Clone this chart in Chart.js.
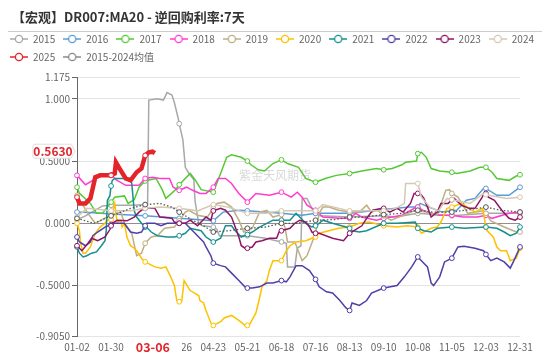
<!DOCTYPE html>
<html><head><meta charset="utf-8">
<script src="https://cdn.jsdelivr.net/npm/chart.js@4.4.1/dist/chart.umd.min.js"></script>
<style>html,body{margin:0;padding:0;background:#fff}</style>
</head><body>
<canvas id="c" width="550" height="356"></canvas>
<script>
// ---------- DATA ----------
const titleText = '【宏观】DR007:MA20 - 逆回购利率:7天';
const watermarkText = '紫金天风期货';
const tickLabels = ['01-02','01-30','02-27','03-26','04-23','05-21','06-18','07-16','08-13','09-10','10-08','11-05','12-03','12-31'];
const yTicks = [-0.905, -0.5, 0, 0.5, 1.0, 1.175];
const yTickText = ['-0.9050','-0.5000','0.000','0.5000','1.000','1.175'];
const currentDate = '03-06';
const seriesNames = ['2015','2016','2017','2018','2019','2020','2021','2022','2023','2024','2025','2015-2024均值'];
const seriesColors = ['#a8a8a8','#5b9bd5','#55c935','#ff3ccf','#bfae83','#ffc000','#16908f','#4f3fa8','#8e1466','#d6c8b2','#e3242b','#555555'];

// categories: every calendar day 01-02 .. 12-31 (leap-year calendar)
const categories = [];
for (let d = new Date(Date.UTC(2024,0,2)); d <= new Date(Date.UTC(2024,11,31)); d.setUTCDate(d.getUTCDate()+1)) {
  categories.push(String(d.getUTCMonth()+1).padStart(2,'0') + '-' + String(d.getUTCDate()).padStart(2,'0'));
}

const s2015 = [['01-02',0.03],['01-09',0.06],['01-16',0.10],['01-23',0.14],['01-30',0.145],['02-15',0.145],['02-27',0.15],['02-29',0.15],['03-01',0.99],['03-08',1.00],['03-13',0.99],['03-16',1.05],['03-20',1.03],['03-22',0.97],['03-25',0.85],['03-26',0.80],['03-29',0.67],['03-31',0.45],['04-03',0.40],['04-07',0.35],['04-08',0.18],['04-11',0.0],['04-14',-0.02],['04-23',-0.03],['04-26',-0.05],['04-28',-0.10],['05-21',-0.10],['06-05',-0.12],['06-18',-0.15],['06-22',-0.16],['06-23',-0.35],['06-29',-0.35],['07-01',-0.20],['07-04',-0.18],['07-05',0.20],['07-09',0.20],['07-14',0.10],['07-16',0.08],['07-20',0.06],['08-13',0.05],['09-10',0.06],['09-20',0.05],['10-08',0.08],['11-05',0.06],['11-20',0.07],['12-03',0.08],['12-31',0.08]];
const s2016 = [['01-02',0.09],['01-16',0.085],['01-30',0.075],['02-27',0.06],['03-26',0.04],['04-23',0.02],['05-01',0.09],['05-15',0.105],['05-21',0.10],['06-18',0.08],['07-05',0.065],['07-16',0.08],['08-13',0.08],['09-10',0.11],['10-01',0.13],['10-08',0.13],['10-10',0.16],['10-17',0.13],['10-28',0.09],['11-05',0.10],['11-09',0.105],['11-17',0.185],['11-24',0.20],['12-01',0.28],['12-03',0.28],['12-12',0.225],['12-22',0.225],['12-31',0.29]];
const s2017 = [['01-02',0.29],['01-04',0.24],['01-13',0.16],['01-18',0.08],['01-23',0.08],['01-30',0.17],['02-02',0.21],['02-10',0.22],['02-13',0.16],['02-18',0.19],['02-22',0.29],['02-27',0.34],['03-02',0.35],['03-07',0.36],['03-12',0.27],['03-15',0.20],['03-23',0.27],['03-26',0.31],['04-04',0.40],['04-08',0.35],['04-13',0.27],['04-23',0.25],['04-25',0.30],['04-29',0.40],['05-04',0.53],['05-08',0.55],['05-16',0.53],['05-21',0.50],['05-24',0.47],['05-30',0.43],['06-04',0.42],['06-11',0.48],['06-18',0.51],['06-23',0.48],['07-02',0.45],['07-08',0.36],['07-16',0.33],['07-24',0.36],['08-02',0.385],['08-13',0.40],['08-23',0.42],['09-04',0.44],['09-10',0.43],['09-17',0.44],['09-25',0.47],['09-28',0.49],['10-07',0.50],['10-08',0.56],['10-11',0.57],['10-15',0.53],['10-19',0.44],['10-26',0.42],['11-05',0.41],['11-09',0.40],['11-20',0.42],['11-28',0.45],['12-03',0.45],['12-08',0.41],['12-12',0.36],['12-22',0.345],['12-28',0.38],['12-31',0.39]];
const s2018 = [['01-02',0.385],['01-09',0.31],['01-15',0.345],['01-23',0.385],['01-30',0.39],['02-03',0.35],['02-11',0.305],['02-22',0.305],['02-27',0.36],['03-04',0.37],['03-10',0.36],['03-18',0.36],['03-21',0.29],['03-26',0.265],['04-01',0.29],['04-06',0.265],['04-12',0.24],['04-17',0.24],['04-23',0.29],['04-27',0.36],['05-03',0.36],['05-08',0.32],['05-14',0.24],['05-21',0.17],['05-28',0.24],['06-08',0.225],['06-18',0.25],['06-26',0.21],['07-01',0.25],['07-05',0.21],['07-09',0.145],['07-16',0.105],['07-22',0.05],['08-04',0.04],['08-13',0.04],['08-18',0.08],['08-23',0.05],['09-04',0.025],['09-10',0.04],['09-17',0.05],['09-25',0.065],['10-07',0.13],['10-08',0.13],['10-12',0.105],['10-24',0.065],['11-05',0.065],['11-14',0.05],['11-26',0.05],['12-03',0.065],['12-08',0.04],['12-22',0.08],['12-31',0.09]];
const s2019 = [['01-02',0.225],['01-06',0.16],['01-11',0.08],['01-17',0.0],['01-22',0.025],['01-30',0.07],['02-07',0.09],['02-10',0.0],['02-16',-0.08],['02-20',-0.26],['02-24',-0.24],['02-27',-0.16],['03-03',-0.11],['03-08',-0.10],['03-14',-0.04],['03-22',-0.03],['03-26',0.02],['03-31',0.09],['04-03',0.105],['04-10',0.065],['04-18',0.05],['04-23',0.12],['04-26',0.16],['05-02',0.17],['05-08',0.13],['05-14',0.025],['05-18',-0.07],['05-21',-0.06],['05-25',-0.04],['05-31',0.09],['06-06',0.105],['06-11',0.05],['06-18',0.07],['06-21',-0.04],['06-23',-0.15],['06-29',-0.15],['07-01',-0.20],['07-05',-0.30],['07-09',-0.26],['07-16',-0.08],['07-19',0.08],['07-22',0.13],['07-27',0.13],['08-04',0.105],['08-13',0.09],['08-21',0.09],['08-27',0.145],['08-31',0.09],['09-05',0.105],['09-10',0.06],['09-16',0.025],['09-25',0.06],['10-05',0.10],['10-08',0.10],['10-15',0.09],['10-24',0.065],['10-31',0.265],['11-03',0.27],['11-05',0.24],['11-10',0.21],['11-18',0.08],['12-01',0.10],['12-03',0.08],['12-07',0.02],['12-18',-0.03],['12-28',-0.07],['12-31',-0.07]];
const s2020 = [['01-02',0.0],['01-04',-0.06],['01-05',-0.16],['01-07',-0.24],['01-09',-0.24],['01-13',-0.19],['01-17',-0.08],['01-21',-0.03],['01-25',0.0],['01-27',0.025],['01-30',0.03],['02-02',0.16],['02-03',0.08],['02-04',0.01],['02-07',0.025],['02-08',-0.03],['02-10',0.0],['02-12',-0.11],['02-15',-0.18],['02-18',-0.20],['02-20',-0.22],['02-24',-0.28],['02-27',-0.31],['03-06',-0.35],['03-11',-0.36],['03-15',-0.35],['03-19',-0.43],['03-22',-0.50],['03-24',-0.62],['03-26',-0.63],['03-28',-0.63],['03-30',-0.46],['04-04',-0.54],['04-11',-0.58],['04-12',-0.62],['04-15',-0.64],['04-17',-0.70],['04-21',-0.80],['04-23',-0.82],['04-29',-0.79],['05-02',-0.76],['05-08',-0.74],['05-14',-0.78],['05-19',-0.82],['05-21',-0.82],['05-23',-0.81],['05-28',-0.72],['05-31',-0.60],['06-02',-0.51],['06-06',-0.46],['06-08',-0.38],['06-11',-0.30],['06-15',-0.30],['06-18',-0.30],['06-19',-0.28],['06-22',-0.22],['06-25',-0.18],['06-30',-0.15],['07-08',-0.14],['07-13',-0.12],['07-16',-0.11],['07-19',-0.08],['07-27',-0.06],['08-04',-0.04],['08-13',-0.03],['08-21',0.0],['08-29',0.01],['09-10',-0.02],['09-21',-0.03],['09-29',-0.02],['10-08',-0.03],['10-11',-0.08],['10-13',-0.07],['10-19',-0.04],['10-24',-0.03],['10-27',0.01],['11-01',0.12],['11-05',0.13],['11-13',0.16],['11-18',0.13],['11-24',0.09],['11-30',0.12],['12-01',0.08],['12-03',-0.03],['12-04',-0.06],['12-09',-0.11],['12-12',-0.19],['12-15',-0.22],['12-20',-0.22],['12-23',-0.30],['12-28',-0.28],['12-31',-0.20]];
const s2021 = [['01-02',-0.19],['01-04',-0.24],['01-07',-0.27],['01-10',-0.26],['01-14',-0.24],['01-18',-0.23],['01-22',-0.18],['01-25',-0.14],['01-26',-0.06],['01-27',0.185],['01-29',0.22],['01-30',0.30],['01-31',0.345],['02-02',0.36],['02-10',0.36],['02-15',0.36],['02-16',0.32],['02-18',0.10],['02-20',0.05],['02-24',0.0],['02-27',-0.03],['02-29',-0.04],['03-03',-0.07],['03-08',-0.10],['03-16',-0.11],['03-22',-0.11],['03-26',-0.10],['03-31',-0.08],['04-04',-0.04],['04-13',-0.06],['04-17',-0.11],['04-23',-0.15],['04-29',-0.12],['05-03',-0.02],['05-08',-0.02],['05-11',-0.06],['05-16',-0.11],['05-21',-0.09],['05-25',-0.07],['05-31',-0.03],['06-06',0.0],['06-11',0.025],['06-18',0.025],['06-25',0.025],['06-30',0.08],['07-03',0.05],['07-08',0.0],['07-13',-0.03],['07-16',-0.02],['07-19',0.0],['07-22',0.025],['07-30',0.0],['08-10',-0.03],['08-13',-0.04],['08-15',-0.06],['08-21',-0.07],['08-27',-0.06],['09-10',0.0],['09-21',0.0],['10-06',0.01],['10-08',-0.04],['10-13',-0.06],['10-19',-0.07],['10-24',-0.04],['11-05',-0.03],['11-15',-0.04],['12-03',-0.03],['12-12',-0.04],['12-18',-0.07],['12-23',-0.10],['12-28',-0.08],['12-31',-0.03]];
const s2022 = [['01-02',-0.11],['01-04',-0.15],['01-09',-0.18],['01-13',-0.15],['01-15',-0.10],['01-19',-0.07],['01-25',-0.03],['01-30',-0.01],['02-02',0.0],['02-10',0.0],['02-12',-0.03],['02-15',-0.07],['02-20',-0.08],['02-24',-0.07],['02-27',-0.02],['02-28',0.0],['03-06',0.0],['03-11',-0.02],['03-16',0.0],['03-26',0.0],['03-31',0.0],['04-04',-0.04],['04-10',-0.10],['04-15',-0.15],['04-17',-0.19],['04-21',-0.26],['04-23',-0.32],['04-29',-0.34],['05-03',-0.35],['05-08',-0.40],['05-14',-0.46],['05-19',-0.51],['05-21',-0.52],['05-25',-0.52],['05-31',-0.51],['06-06',-0.48],['06-11',-0.48],['06-18',-0.46],['06-22',-0.47],['06-25',-0.43],['06-30',-0.34],['07-05',-0.34],['07-11',-0.38],['07-16',-0.45],['07-19',-0.51],['07-25',-0.55],['07-30',-0.56],['08-05',-0.62],['08-10',-0.68],['08-13',-0.70],['08-15',-0.64],['08-21',-0.66],['08-27',-0.62],['08-31',-0.56],['09-10',-0.52],['09-21',-0.50],['09-27',-0.43],['10-03',-0.35],['10-08',-0.27],['10-13',-0.32],['10-16',-0.35],['10-19',-0.48],['10-21',-0.50],['10-26',-0.43],['10-30',-0.31],['11-05',-0.28],['11-10',-0.19],['11-15',-0.185],['11-24',-0.20],['12-01',-0.22],['12-03',-0.25],['12-07',-0.30],['12-12',-0.28],['12-18',-0.31],['12-23',-0.36],['12-26',-0.30],['12-31',-0.19]];
const s2023 = [['01-02',-0.18],['01-06',-0.22],['01-11',-0.16],['01-14',-0.12],['01-19',-0.14],['01-25',-0.11],['01-29',-0.05],['01-30',-0.02],['01-31',0.0],['02-04',0.025],['02-12',0.02],['02-18',0.05],['02-22',0.09],['02-26',0.12],['02-27',0.12],['03-06',0.12],['03-10',0.05],['03-20',0.04],['03-22',0.01],['03-26',0.0],['03-31',0.0],['04-04',0.025],['04-10',-0.02],['04-17',0.05],['04-21',0.025],['04-23',0.10],['04-29',0.12],['05-03',0.105],['05-08',0.05],['05-11',-0.03],['05-14',-0.11],['05-16',-0.18],['05-19',-0.20],['05-21',-0.20],['05-25',-0.19],['05-28',-0.15],['06-02',-0.14],['06-08',-0.12],['06-14',-0.12],['06-16',-0.07],['06-18',-0.06],['06-25',-0.04],['06-29',0.0],['07-03',0.025],['07-08',0.01],['07-11',-0.03],['07-13',-0.07],['07-16',-0.08],['07-19',-0.08],['07-30',-0.12],['08-08',-0.14],['08-13',-0.08],['08-23',-0.02],['08-27',0.04],['09-01',0.105],['09-09',0.12],['09-10',0.12],['09-15',0.09],['09-21',0.12],['09-26',0.09],['10-02',0.16],['10-05',0.24],['10-08',0.24],['10-10',0.24],['10-13',0.20],['10-16',0.13],['10-19',0.05],['10-24',0.09],['10-27',0.16],['11-02',0.16],['11-05',0.19],['11-07',0.20],['11-13',0.145],['11-19',0.12],['11-24',0.12],['11-30',0.21],['12-02',0.25],['12-03',0.24],['12-05',0.21],['12-10',0.185],['12-16',0.105],['12-22',0.04],['12-27',0.025],['12-31',0.05]];
const s2024 = [['01-02',0.05],['01-10',0.12],['01-30',0.10],['02-15',0.10],['02-27',0.12],['03-10',0.13],['03-26',0.12],['04-10',0.10],['04-23',0.15],['05-05',0.13],['05-21',0.08],['06-05',0.08],['06-18',0.10],['07-05',0.10],['07-16',0.10],['07-22',0.15],['08-13',0.10],['08-25',0.10],['09-10',0.10],['09-20',0.12],['09-27',0.16],['09-28',0.32],['10-08',0.32],['10-11',0.21],['10-18',0.13],['10-25',0.10],['11-01',0.20],['11-05',0.19],['11-20',0.16],['12-01',0.24],['12-03',0.23],['12-20',0.20],['12-31',0.21]];
const s2025 = [['01-02',0.21],['01-04',0.16],['01-09',0.16],['01-13',0.20],['01-17',0.37],['01-21',0.385],['01-30',0.385],['02-02',0.40],['02-03',0.49],['02-06',0.44],['02-11',0.36],['02-15',0.345],['02-20',0.41],['02-24',0.44],['02-27',0.545],['03-01',0.57],['03-04',0.575],['03-06',0.563]];
const sMean = [['01-02',0.04],['01-16',0.0],['01-30',0.06],['02-15',0.12],['02-27',0.15],['03-10',0.16],['03-20',0.13],['03-26',0.09],['04-05',0.03],['04-15',-0.02],['04-23',-0.07],['05-05',-0.06],['05-21',-0.04],['06-05',-0.03],['06-18',0.0],['07-01',0.0],['07-16',0.025],['08-01',0.03],['08-13',0.05],['08-25',0.05],['09-10',0.07],['09-25',0.08],['10-08',0.105],['10-20',0.09],['11-05',0.09],['11-20',0.11],['12-03',0.13],['12-15',0.105],['12-31',0.09]];
const seriesData = [s2015,s2016,s2017,s2018,s2019,s2020,s2021,s2022,s2023,s2024,s2025,sMean];

// ---------- CHART ----------
const FONT = '"Noto Sans CJK SC", "Liberation Sans", sans-serif';
const markSet = new Set(tickLabels);
const tickSet = new Set(tickLabels);

function legendIcon(color){
  const cv = document.createElement('canvas'); cv.width = 18; cv.height = 10;
  const g = cv.getContext('2d');
  g.strokeStyle = color; g.lineWidth = 1.5;
  g.beginPath(); g.moveTo(0,5); g.lineTo(18,5); g.stroke();
  g.beginPath(); g.arc(9,5,3.6,0,Math.PI*2); g.fillStyle='#fff'; g.fill(); g.lineWidth=1.3; g.stroke();
  return cv;
}
const icons = seriesColors.map((c,i) => legendIcon(i===11 ? '#888' : c));

const datasets = seriesNames.map((name,i) => ({
  label: name,
  data: seriesData[i].map(([x,y]) => ({x, y})),
  borderColor: seriesColors[i],
  backgroundColor: seriesColors[i],
  borderWidth: i===10 ? 4.5 : (i===11 ? 1.3 : 1.5),
  borderDash: i===11 ? [1.5,2] : [],
  pointRadius: c => (c.raw && markSet.has(c.raw.x)) ? 2.4 : 0,
  pointBackgroundColor: '#fff',
  pointBorderColor: seriesColors[i],
  pointBorderWidth: 1,
  tension: 0,
  fill: false,
  order: 12 - i
}));

const decor = {
  id: 'decor',
  beforeDraw(chart){
    const c = chart.ctx; c.save();
    c.fillStyle = '#fff'; c.fillRect(0,0,chart.width,chart.height);
    c.fillStyle = '#333'; c.font = 'bold 13px ' + FONT; c.textBaseline = 'middle'; c.textAlign = 'left';
    c.fillText(titleText, 12, 17);
    c.strokeStyle = '#cccccc'; c.lineWidth = 1;
    c.beginPath(); c.moveTo(8,31.5); c.lineTo(542,31.5); c.stroke();
    c.restore();
  },
  beforeDatasetsDraw(chart){
    const c = chart.ctx; c.save();
    c.fillStyle = 'rgba(190,190,190,0.6)'; c.font = '12px ' + FONT; c.textAlign = 'center'; c.textBaseline = 'middle';
    c.fillText(watermarkText, 275, 175);
    c.restore();
  },
  afterDraw(chart){
    const c = chart.ctx, ys = chart.scales.y, xs = chart.scales.x;
    const last = s2025[s2025.length-1][1];
    const py = ys.getPixelForValue(last) - 2;
    c.save();
    // value tag on y axis
    const l = 33, r = 71, h = 14, t = py - h/2;
    c.beginPath();
    c.moveTo(l+2, t); c.lineTo(r, t); c.lineTo(r+4, py); c.lineTo(r, t+h); c.lineTo(l+2, t+h);
    c.quadraticCurveTo(l, t+h, l, t+h-2); c.lineTo(l, t+2); c.quadraticCurveTo(l, t, l+2, t); c.closePath();
    c.fillStyle = '#fff'; c.fill(); c.strokeStyle = '#dddddd'; c.lineWidth = 1; c.stroke();
    c.fillStyle = '#e3242b'; c.font = 'bold 12px ' + FONT; c.textAlign = 'center'; c.textBaseline = 'middle';
    c.fillText(last.toFixed(4), (l+r)/2 + 1, py + 0.5);
    // current date label on x axis
    const px = xs.getPixelForValue(categories.indexOf(currentDate)) - 2;
    c.fillStyle = '#fff'; c.fillRect(px - 25, 339, 54, 17);
    c.fillStyle = '#e3242b'; c.font = 'bold 12.5px ' + FONT;
    c.fillText(currentDate, px, 347.5);
    c.restore();
  }
};

Chart.defaults.font.family = FONT;
new Chart(document.getElementById('c'), {
  type: 'line',
  data: { labels: categories, datasets },
  options: {
    responsive: false, animation: false, devicePixelRatio: 1, events: [],
    layout: { padding: { top: 26, left: 2, right: 0, bottom: 0 } },
    plugins: {
      title: { display: false }, tooltip: { enabled: false },
      legend: {
        position: 'top', align: 'start',
        labels: {
          usePointStyle: true, pointStyleWidth: 18, boxHeight: 10, padding: 8,
          color: '#666', font: { size: 10, family: FONT },
          sort: (a,b) => a.datasetIndex - b.datasetIndex,
          generateLabels(chart){
            const items = Chart.defaults.plugins.legend.labels.generateLabels(chart);
            items.forEach(it => { it.pointStyle = icons[it.datasetIndex]; it.lineWidth = 0; });
            return items;
          }
        }
      }
    },
    scales: {
      x: {
        type: 'category', position: 'bottom', offset: false,
        grid: { display: false, drawTicks: false }, border: { display: false },
        ticks: { autoSkip: false, maxRotation: 0, minRotation: 0, padding: 5, color: '#666', font: { size: 10 } },
        afterBuildTicks: s => { s.ticks = s.ticks.filter(t => tickSet.has(categories[t.value])); },
        afterFit: s => { s.height = 20; }
      },
      xTop: {
        type: 'linear', position: 'top', display: true,
        grid: { display: false, drawTicks: false }, border: { display: false }, ticks: { display: false },
        afterFit: s => { s.height = 5; }
      },
      y: {
        type: 'linear', position: 'left', min: -0.905, max: 1.175,
        grid: {
          color: c => (c.tick && Math.abs(c.tick.value) < 1e-9) ? '#8f8f8f' : '#e4e4e4',
          lineWidth: 1, tickLength: 5, tickColor: '#666'
        },
        border: { display: true, color: '#666', width: 1 },
        ticks: {
          padding: 2, color: '#666', font: { size: 10 },
          callback: v => { const k = yTicks.findIndex(t => Math.abs(t - v) < 1e-9); return k >= 0 ? yTickText[k] : ''; }
        },
        afterBuildTicks: s => { s.ticks = yTicks.map(v => ({ value: v })); },
        afterFit: s => { s.width = 75; }
      },
      yR: {
        type: 'linear', position: 'right', display: true,
        grid: { display: false, drawTicks: false }, border: { display: false }, ticks: { display: false },
        afterFit: s => { s.width = 30; }
      }
    }
  },
  plugins: [decor]
});
</script>
</body></html>
